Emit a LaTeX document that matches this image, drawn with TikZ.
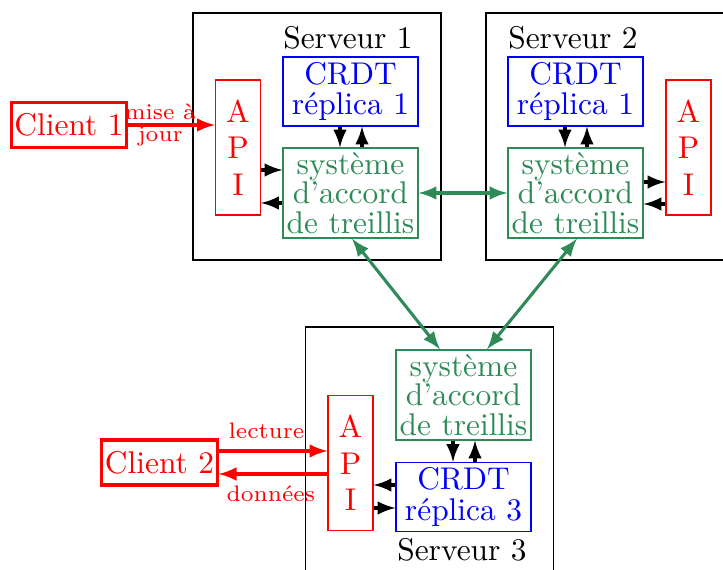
\documentclass[tikz,border=0pt]{standalone}
\usepackage{fontspec}
\newcommand{\px}{0.3247pt}
\definecolor{treillis}{RGB}{46,139,87}

\begin{document}
\begin{tikzpicture}[x=\px,y=-\px,>=latex,
	serveur/.style={draw,minimum width=248*\px,minimum height=247*\px},
	crdt/.style={draw=blue,text=blue,align=center,inner sep=1pt,font=\fontsize{10.2}{9.8}\selectfont,minimum width=135*\px,minimum height=69*\px},
	accord/.style={draw=treillis,text=treillis,align=center,inner sep=1pt,font=\fontsize{10.2}{9.5}\selectfont,minimum width=135*\px,minimum height=90*\px},
	api/.style={draw=red,text=red,align=center,inner sep=1pt,font=\fontsize{10.2}{11.8}\selectfont,minimum width=45*\px,minimum height=135*\px},
	client/.style={draw=red,text=red,line width=1pt,inner sep=1pt,font=\fontsize{10.2}{12}\selectfont,minimum width=112*\px,minimum height=45*\px},
	fleche/.style={line width=1pt,->},
	petit/.style={font=\fontsize{7.3}{7}\selectfont,text=red}]
	\useasboundingbox (0,0) rectangle (723,570);
	\clip (0,0) rectangle (723,570);

	% serveurs
	\node[serveur] (s1) at (317,136.5) {};
	\node[serveur] (s2) at (610,136.5) {};
	\node[serveur] (s3) at (429.5,450.5) {};
	\node[font=\fontsize{10.2}{12}\selectfont] (t1) at (348,38) {Serveur 1};
	\node[font=\fontsize{10.2}{12}\selectfont] (t2) at (573,38) {Serveur 2};
	\node[font=\fontsize{10.2}{12}\selectfont] (t3) at (462,550) {Serveur 3};

	\node[crdt] (c1) at (350.5,91.5) {CRDT\\réplica 1};
	\node[accord] (a1) at (350.5,193) {système\\d'accord\\de treillis};
	\node[api] (p1) at (238,147.5) {A\\P\\I};

	\node[crdt] (c2) at (575.5,91.5) {CRDT\\réplica 1};
	\node[accord] (a2) at (575.5,193) {système\\d'accord\\de treillis};
	\node[api] (p2) at (688.5,147.5) {A\\P\\I};

	\node[accord] (a3) at (463.5,395) {système\\d'accord\\de treillis};
	\node[crdt] (c3) at (463.5,497) {CRDT\\réplica 3};
	\node[api] (p3) at (350.5,463) {A\\P\\I};

	\node[client] (k1) at (69,125) {Client 1};
	\node[client] (k2) at (159.5,462.5) {Client 2};

	% serveur 1
	\draw[fleche] (c1.south -| 340,0) -- (a1.north -| 340,0);
	\draw[fleche] (a1.north -| 362,0) -- (c1.south -| 362,0);
	\draw[fleche] (p1.east |- 0,170) -- (a1.west |- 0,170);
	\draw[fleche] (a1.west |- 0,203) -- (p1.east |- 0,203);

	% serveur 2
	\draw[fleche] (c2.south -| 565,0) -- (a2.north -| 565,0);
	\draw[fleche] (a2.north -| 587,0) -- (c2.south -| 587,0);
	\draw[fleche] (a2.east |- 0,182) -- (p2.west |- 0,182);
	\draw[fleche] (p2.west |- 0,204) -- (a2.east |- 0,204);

	% serveur 3
	\draw[fleche] (a3.south -| 453,0) -- (c3.north -| 453,0);
	\draw[fleche] (c3.north -| 475,0) -- (a3.south -| 475,0);
	\draw[fleche] (c3.west |- 0,485) -- (p3.east |- 0,485);
	\draw[fleche] (p3.east |- 0,508) -- (c3.west |- 0,508);

	% accord entre serveurs
	\draw[fleche,<->,treillis] (a1) -- (a2);
	\draw[fleche,<->,treillis] (a1.south -| 352,0) -- (a3.north -| 440,0);
	\draw[fleche,<->,treillis] (a2.south -| 577,0) -- (a3.north -| 487,0);

	% clients
	\draw[fleche,red] (k1) -- node[petit,pos=0.37,align=center] {mise à\\jour} (p1.west |- k1);
	\draw[fleche,red] (k2.east |- 0,451) -- node[petit,pos=0.44,above] {lecture} (p3.west |- 0,451);
	\draw[fleche,red] (p3.west |- 0,474) -- node[petit,pos=0.52,below] {données} (k2.east |- 0,474);
\end{tikzpicture}
\end{document}
